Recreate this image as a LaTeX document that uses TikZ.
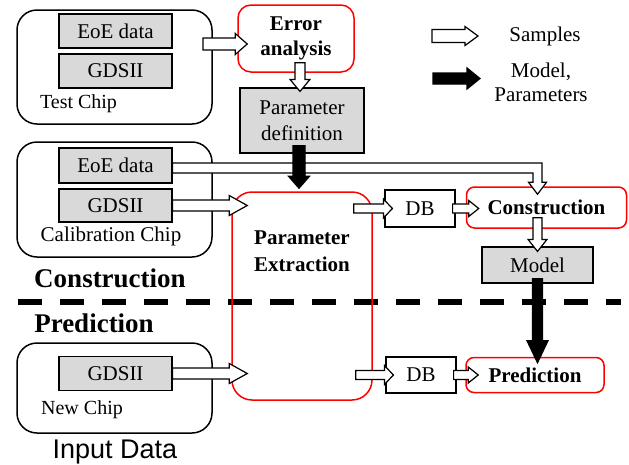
\documentclass[tikz,border=0pt]{standalone}
\usepackage{fontspec}
\setmainfont{Liberation Serif}
\newfontfamily\arialfont{Liberation Sans}
\usetikzlibrary{calc}

\definecolor{boxgray}{RGB}{217,217,217}
\newcommand\fsz[2]{\fontsize{#1}{#2}\selectfont}

% block arrow: #1 fill, #2 shaft half width, #3 head half width, #4 head length, #5 start, #6 tip
\newcommand\blockarrow[6]{%
  \path (#5) coordinate (ba-a) (#6) coordinate (ba-b);
  \coordinate (ba-c) at ($(ba-b)!#4pt!(ba-a)$);
  \filldraw[draw=black, line width=1.2pt, line join=miter, fill=#1]
    ($(ba-a)!#2pt!90:(ba-b)$) -- ($(ba-c)!#2pt!90:(ba-b)$) -- ($(ba-c)!#3pt!90:(ba-b)$)
    -- (ba-b) -- ($(ba-c)!#3pt!-90:(ba-b)$) -- ($(ba-c)!#2pt!-90:(ba-b)$)
    -- ($(ba-a)!#2pt!-90:(ba-b)$) -- cycle;}

\begin{document}
\begin{tikzpicture}[x=1pt, y=-1pt,
  chip/.style={draw, line width=1.5pt, rounded corners=20pt, minimum width=195pt, inner sep=0pt},
  databox/.style={draw, line width=1.2pt, fill=boxgray, minimum width=113pt, minimum height=34pt,
    inner sep=0pt, font=\fsz{21}{25}},
  redbox/.style={draw=red, line width=1.5pt, inner sep=0pt, align=center, font=\fsz{21}{25}\bfseries},
  dbbox/.style={draw, line width=1.2pt, minimum width=70pt, minimum height=36pt, inner sep=0pt,
    font=\fsz{21}{25}},
  lbl/.style={inner sep=0pt, font=\fsz{20}{24}},
  phase/.style={inner sep=0pt, font=\fsz{27}{30}\bfseries}]
\useasboundingbox (0,0) rectangle (629,464);

% phase separator
\draw[line width=5.5pt, dash pattern=on 24pt off 18pt] (18,302) -- (621,302);

% input chips
\node[chip, minimum height=114pt] (test) at (114.5,67) {};
\node[databox] (eoe1) at (115.5,31) {EoE data};
\node[databox] (gds1) at (115.5,71) {GDSII};
\node[lbl] (testlbl) at (78.5,104) {Test Chip};

\node[chip, minimum height=115pt] (cal) at (114.5,199.5) {};
\node[databox, minimum height=35pt] (eoe2) at (115.5,165.5) {EoE data};
\node[databox, minimum height=33pt] (gds2) at (115.5,205.5) {GDSII};
\node[lbl, font=\fsz{21}{24}] (callbl) at (111,236) {Calibration Chip};

\node[chip, minimum height=90pt] (new) at (114.5,388) {};
\node[databox] (gds3) at (115.5,373.5) {GDSII};
\node[lbl] (newlbl) at (82,410) {New Chip};

\node[inner sep=0pt, font=\arialfont\fsz{27}{30}] (input) at (115,452) {Input Data};

% phase titles
\node[phase] (tcons) at (110,278) {Construction};
\node[phase] (tpred) at (94,323) {Prediction};

% processing blocks
\node[redbox, rounded corners=13pt, minimum width=116pt, minimum height=67pt, font=\fsz{21}{25}\bfseries]
  (err) at (296,38.5) {Error\\analysis};
\node[draw, line width=1.2pt, fill=boxgray, minimum width=124pt, minimum height=65pt, inner sep=0pt,
  align=center, font=\fsz{21}{26}] (pdef) at (302,120.5) {Parameter\\definition};
\node[redbox, rounded corners=20pt, minimum width=140pt, minimum height=208pt] (pex) at (302,296) {};
\node[inner sep=0pt, align=center, font=\fsz{21}{27}\bfseries] (pextxt) at (302,251.5) {Parameter\\Extraction};

\node[dbbox, minimum height=37pt] (db1) at (420,208.5) {DB};
\node[redbox, rounded corners=8pt, minimum width=160pt, minimum height=41pt] (con) at (546.5,207.5) {Construction};
\node[draw, line width=1.2pt, fill=boxgray, minimum width=111pt, minimum height=36pt, inner sep=0pt,
  font=\fsz{21}{25}] (model) at (537.5,265) {Model};

\node[dbbox] (db2) at (421,375) {DB};
\node[redbox, rounded corners=8pt, minimum width=138pt, minimum height=35pt] (pred) at (535,375) {Prediction};

% legend
\coordinate (ls1) at (432,36);
\coordinate (le1) at (478,36);
\coordinate (ls2) at (433,78.5);
\coordinate (le2) at (480,78.5);
\node[inner sep=0pt, font=\fsz{21}{25}] (lsamp) at (545,36) {Samples};
\node[inner sep=0pt, align=center, font=\fsz{21}{24}] (lmodel) at (541,82) {Model,\\Parameters};
\blockarrow{white}{6.5}{9.5}{13}{ls1}{le1}
\blockarrow{black}{5.5}{10.5}{13}{ls2}{le2}

% sample flows
\coordinate (tstart) at (203,44);
\blockarrow{white}{6}{10.5}{12}{tstart}{$(err.west |- tstart)+(10,0)$}
\blockarrow{white}{5}{10}{12}{$(err.south)+(4,-10)$}{$(pdef.north)+(-2,4)$}
\blockarrow{white}{5.5}{10}{18}{gds2.east}{$(pex.west |- gds2.east)+(16,0)$}
\blockarrow{white}{5.5}{10}{18}{gds3.east}{$(pex.west |- gds3.east)+(16,0)$}
\blockarrow{white}{4.5}{9.5}{9}{$(pex.east |- db1.west)+(-19,0)$}{$(db1.west)+(8,0)$}
\blockarrow{white}{4.5}{8}{10}{$(db1.east)+(-3,0)$}{$(con.west |- db1.east)+(13,0)$}
\blockarrow{white}{4.5}{9.5}{9}{$(pex.east |- db2.west)+(-17,0)$}{$(db2.west)+(8,0)$}
\blockarrow{white}{4.5}{8}{10}{$(db2.east)+(-3,0)$}{$(pred.west |- db2.east)+(13,0)$}
\blockarrow{white}{4.5}{9.5}{12}{$(con.south -| model.north)+(0,-11)$}{$(model.north)+(0,5)$}

% calibration EoE data routed to the construction step
\coordinate (turn) at ($(eoe2.east -| model.north)+(0,2.5)$);
\coordinate (etip) at ($(con.north -| model.north)+(0,8)$);
\filldraw[draw=black, line width=1.2pt, fill=white, line join=miter]
  ($(eoe2.east |- turn)+(0,-5)$) -- ($(turn)+(4.5,-5)$) -- ($(etip)+(4.5,-12)$)
  -- ($(etip)+(9,-12)$) -- (etip) -- ($(etip)+(-9,-12)$) -- ($(etip)+(-4.5,-12)$)
  -- ($(turn)+(-4.5,5)$) -- ($(eoe2.east |- turn)+(0,5)$) -- cycle;

% model and parameter flows
\blockarrow{black}{6}{10.5}{12}{$(pdef.south)+(-3,-8)$}{$(pex.north)+(-3,-3)$}
\blockarrow{black}{5}{10.5}{22}{$(model.south)+(0,-5)$}{$(pred.north -| model.south)+(0,6)$}
\end{tikzpicture}
\end{document}
